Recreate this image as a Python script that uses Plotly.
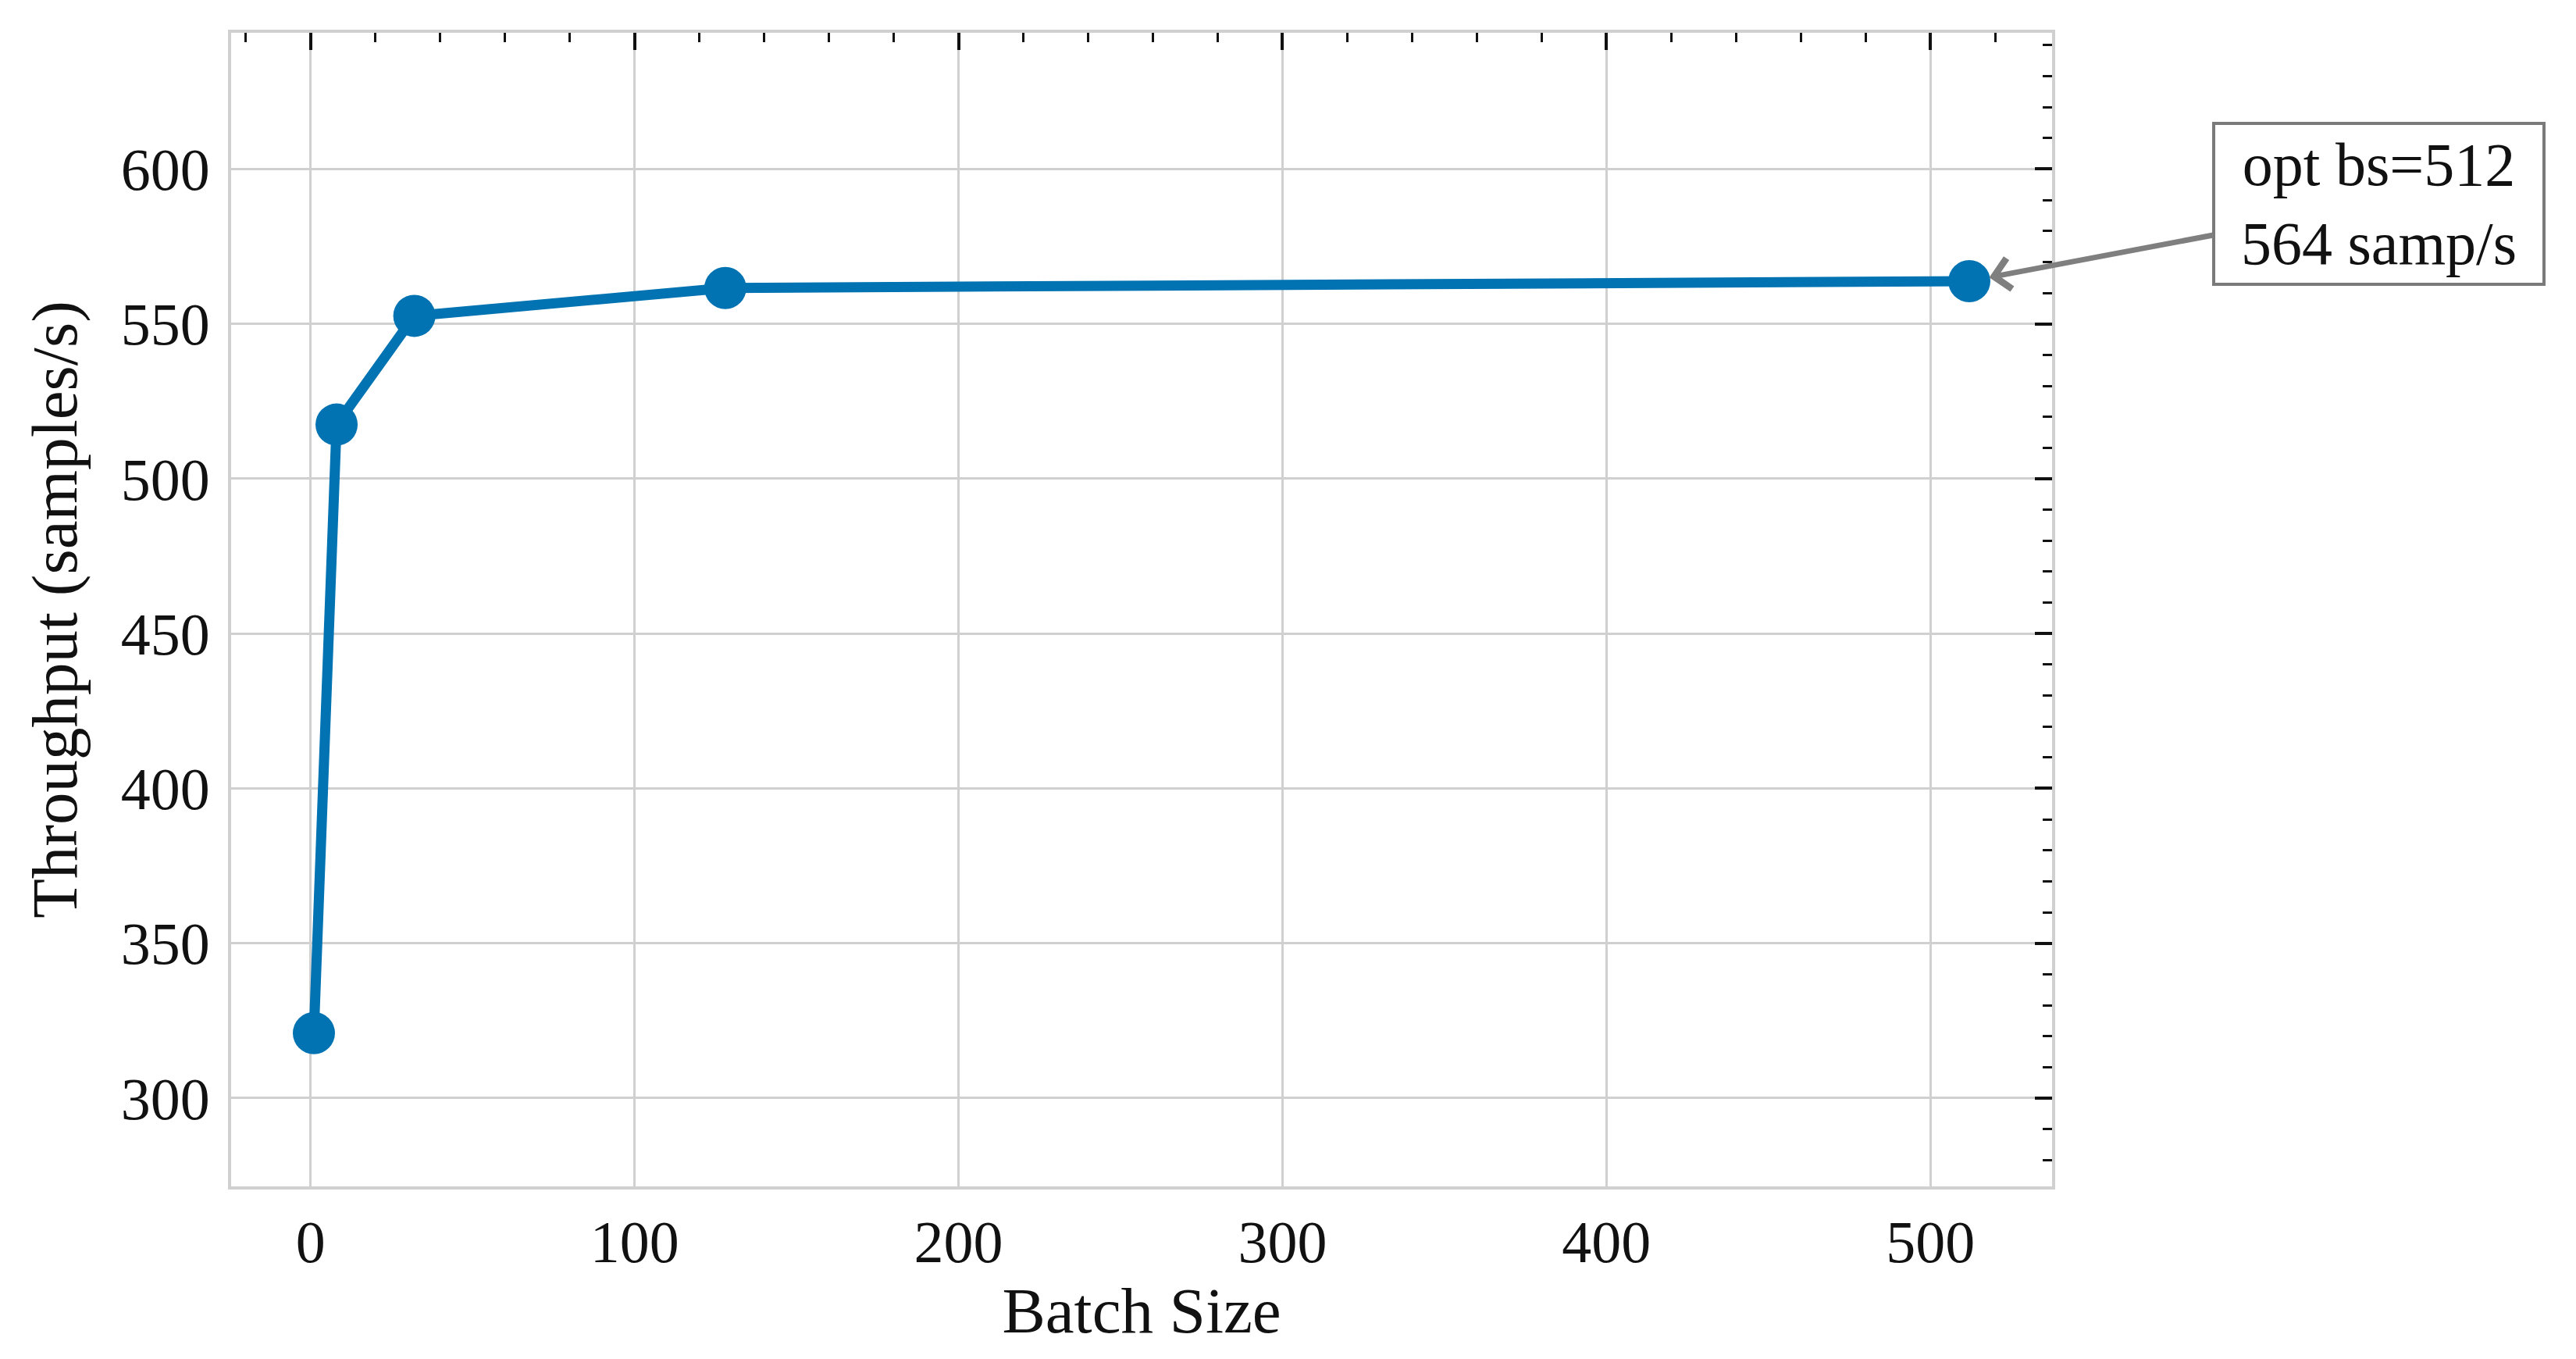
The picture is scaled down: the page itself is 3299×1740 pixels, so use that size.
import plotly.graph_objects as go

# data
batch_sizes = [1, 8, 32, 128, 512]
throughput = [321.0, 517.5, 552.6, 561.6, 563.8]

x_range = [-24.55, 537.55]
y_range = [271.5, 644.0]

best_idx = throughput.index(max(throughput))
best_bs = batch_sizes[best_idx]
best_tp = throughput[best_idx]

FONT = "Liberation Serif"
BLUE = "#0173B2"
GRID = "#D0D0D0"

fig = go.Figure()

fig.add_trace(go.Scatter(
    x=batch_sizes,
    y=throughput,
    mode="lines+markers",
    line=dict(color=BLUE, width=13),
    marker=dict(color=BLUE, size=54),
    showlegend=False,
))

# ghost trace so the top/right tick axes get drawn
fig.add_trace(go.Scatter(
    x=batch_sizes,
    y=throughput,
    xaxis="x2",
    yaxis="y2",
    mode="lines",
    line=dict(width=0),
    opacity=0,
    hoverinfo="skip",
    showlegend=False,
))

fig.add_annotation(
    x=best_bs,
    y=best_tp,
    xref="x",
    yref="y",
    text=f"opt bs={best_bs}<br>{best_tp:.0f} samp/s",
    showarrow=True,
    ax=524,
    ay=-99,
    arrowhead=4,
    arrowsize=1.1,
    arrowwidth=7,
    arrowcolor="#7F7F7F",
    standoff=26,
    font=dict(family=FONT, size=78, color="#111111"),
    align="center",
    width=405,
    bgcolor="white",
    bordercolor="#7A7A7A",
    borderwidth=4,
    borderpad=7,
)

fig.update_layout(
    width=3299,
    height=1740,
    margin=dict(l=288, r=679, t=34, b=229),
    paper_bgcolor="white",
    plot_bgcolor="white",
    font=dict(family=FONT, color="#111111"),
    xaxis=dict(
        range=x_range,
        tickvals=[0, 100, 200, 300, 400, 500],
        showgrid=True,
        gridcolor=GRID,
        gridwidth=3,
        zeroline=False,
        showline=True,
        linecolor=GRID,
        linewidth=4,
        ticks="",
        ticklabelstandoff=2,
        tickfont=dict(size=76),
        title=dict(text="Batch Size", font=dict(size=83), standoff=16),
    ),
    yaxis=dict(
        range=y_range,
        tickvals=[300, 350, 400, 450, 500, 550, 600],
        showgrid=True,
        gridcolor=GRID,
        gridwidth=3,
        zeroline=False,
        showline=True,
        linecolor=GRID,
        linewidth=4,
        ticks="",
        ticklabelstandoff=8,
        tickfont=dict(size=76),
        title=dict(text="Throughput (samples/s)", font=dict(size=83), standoff=30),
    ),
    xaxis2=dict(
        overlaying="x",
        side="top",
        anchor="y2",
        range=x_range,
        dtick=100,
        tick0=0,
        showgrid=False,
        zeroline=False,
        showline=True,
        linecolor=GRID,
        linewidth=4,
        showticklabels=False,
        ticks="inside",
        ticklen=22,
        tickwidth=4,
        tickcolor="#111111",
        minor=dict(dtick=20, tick0=0, ticks="inside", ticklen=12, tickwidth=3,
                   tickcolor="#111111", showgrid=False),
    ),
    yaxis2=dict(
        overlaying="y",
        side="right",
        anchor="x2",
        range=y_range,
        dtick=50,
        tick0=0,
        showgrid=False,
        zeroline=False,
        showline=True,
        linecolor=GRID,
        linewidth=4,
        showticklabels=False,
        ticks="inside",
        ticklen=22,
        tickwidth=4,
        tickcolor="#111111",
        minor=dict(dtick=10, tick0=0, ticks="inside", ticklen=12, tickwidth=3,
                   tickcolor="#111111", showgrid=False),
    ),
)

fig.write_html("out.html")
